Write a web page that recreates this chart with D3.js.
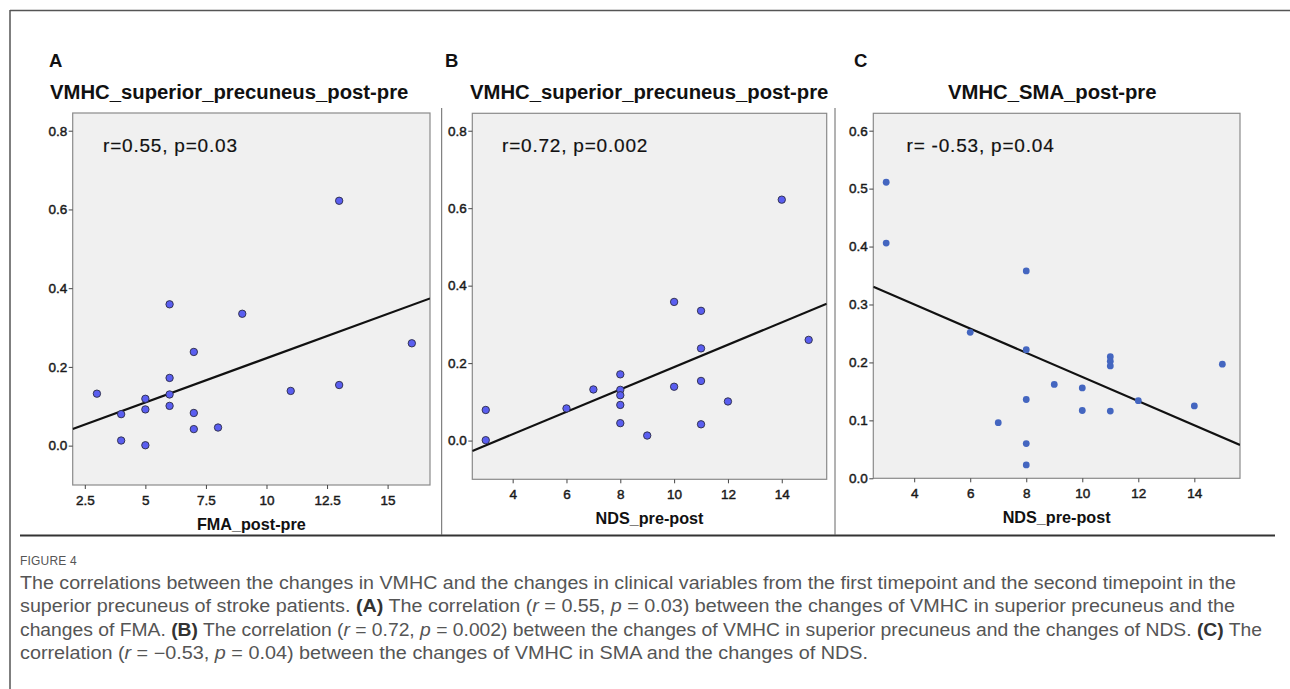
<!DOCTYPE html>
<html>
<head>
<meta charset="utf-8">
<script src="https://cdn.jsdelivr.net/npm/d3@7"></script>
<style>
  html, body { margin: 0; padding: 0; background: #fff; }
  svg { display: block; font-family: "Liberation Sans", Arial, sans-serif; }
</style>
</head>
<body>
<svg id="chart" width="1290" height="689"></svg>
<script>
// ---------- DATA ----------
const panelLetters = ["A", "B", "C"];
const panelTitles = ["VMHC_superior_precuneus_post-pre", "VMHC_superior_precuneus_post-pre", "VMHC_SMA_post-pre"];
const xLabels = ["FMA_post-pre", "NDS_pre-post", "NDS_pre-post"];
const statLabels = ["r=0.55, p=0.03", "r=0.72, p=0.002", "r= -0.53, p=0.04"];

const fmaChangeA = [3, 4, 4, 5, 5, 5, 6, 6, 6, 6, 7, 7, 7, 8, 9, 11, 13, 13, 16];
const vmhcPrecuneusA = [0.132, 0.080, 0.013, 0.119, 0.092, 0.001, 0.359, 0.172, 0.130, 0.101, 0.238, 0.083, 0.042, 0.046, 0.335, 0.139, 0.154, 0.622, 0.260];

const ndsChangeB = [3, 3, 6, 7, 8, 8, 8, 8, 8, 9, 10, 10, 11, 11, 11, 11, 12, 14, 15];
const vmhcPrecuneusB = [0.079, 0.001, 0.083, 0.132, 0.171, 0.131, 0.117, 0.092, 0.045, 0.013, 0.358, 0.139, 0.335, 0.238, 0.154, 0.042, 0.101, 0.622, 0.260];

const ndsChangeC = [3, 3, 6, 7, 8, 8, 8, 8, 8, 9, 10, 10, 11, 11, 11, 11, 12, 14, 15];
const vmhcSMA = [0.511, 0.406, 0.252, 0.096, 0.358, 0.222, 0.136, 0.060, 0.023, 0.162, 0.156, 0.117, 0.210, 0.202, 0.194, 0.116, 0.134, 0.125, 0.197];

const xTicksA = [2.5, 5, 7.5, 10, 12.5, 15];
const xTicksBC = [4, 6, 8, 10, 12, 14];
const yTicksAB = [0.0, 0.2, 0.4, 0.6, 0.8];
const yTicksC = [0.0, 0.1, 0.2, 0.3, 0.4, 0.5, 0.6];

const captionHead = "FIGURE 4";
const captionLines = [
  [["The correlations between the changes in VMHC and the changes in clinical variables from the first timepoint and the second timepoint in the", ""]],
  [["superior precuneus of stroke patients. ", ""], ["(A)", "b"], [" The correlation (", ""], ["r", "i"], [" = 0.55, ", ""], ["p", "i"], [" = 0.03) between the changes of VMHC in superior precuneus and the", ""]],
  [["changes of FMA. ", ""], ["(B)", "b"], [" The correlation (", ""], ["r", "i"], [" = 0.72, ", ""], ["p", "i"], [" = 0.002) between the changes of VMHC in superior precuneus and the changes of NDS. ", ""], ["(C)", "b"], [" The", ""]],
  [["correlation (", ""], ["r", "i"], [" = \u22120.53, ", ""], ["p", "i"], [" = 0.04) between the changes of VMHC in SMA and the changes of NDS.", ""]]
];

// ---------- LAYOUT ----------
const panels = [
  { x: fmaChangeA, y: vmhcPrecuneusA, xDom: [2, 16.75], yDom: [-0.1, 0.845], xTicks: xTicksA, yTicks: yTicksAB,
    box: { l: 72.7, r: 430, t: 113, b: 485 }, letterX: 49, titleX: 50, statX: 103, dot: "outlined" },
  { x: ndsChangeB, y: vmhcPrecuneusB, xDom: [2.5, 15.67], yDom: [-0.1, 0.845], xTicks: xTicksBC, yTicks: yTicksAB,
    box: { l: 472.3, r: 826.7, t: 113.3, b: 479.3 }, letterX: 445, titleX: 470, statX: 502, dot: "outlined" },
  { x: ndsChangeC, y: vmhcSMA, xDom: [2.54, 15.63], yDom: [0, 0.63], xTicks: xTicksBC, yTicks: yTicksC,
    box: { l: 873.3, r: 1240, t: 113.3, b: 478.3 }, letterX: 854, titleX: 948, statX: 906.5, dot: "plain" }
];

const svg = d3.select("#chart");

// outer frame
svg.append("line").attr("x1", 10).attr("x2", 1290).attr("y1", 10.5).attr("y2", 10.5).attr("stroke", "#555").attr("stroke-width", 1.5);
svg.append("line").attr("x1", 10).attr("x2", 10).attr("y1", 10).attr("y2", 689).attr("stroke", "#555").attr("stroke-width", 1.5);

// figure separators
svg.append("line").attr("x1", 20).attr("x2", 1275).attr("y1", 535.5).attr("y2", 535.5).attr("stroke", "#333").attr("stroke-width", 2);
[441.7, 835].forEach(xv => {
  svg.append("line").attr("x1", xv).attr("x2", xv).attr("y1", 108).attr("y2", 535).attr("stroke", "#666").attr("stroke-width", 1);
});

function regression(xs, ys) {
  const mx = d3.mean(xs), my = d3.mean(ys);
  let sxy = 0, sxx = 0;
  xs.forEach((xv, i) => { sxy += (xv - mx) * (ys[i] - my); sxx += (xv - mx) * (xv - mx); });
  const slope = sxy / sxx;
  return { slope, intercept: my - slope * mx };
}

panels.forEach((p, i) => {
  const g = svg.append("g");
  const bx = p.box;
  const xs = d3.scaleLinear().domain(p.xDom).range([bx.l, bx.r]);
  const ys = d3.scaleLinear().domain(p.yDom).range([bx.b, bx.t]);

  // letter & title
  g.append("text").attr("x", p.letterX).attr("y", 66.7).attr("font-size", 18.5).attr("font-weight", "bold").attr("fill", "#111").text(panelLetters[i]);
  g.append("text").attr("x", p.titleX).attr("y", 98.8).attr("font-size", 20.3).attr("font-weight", "bold").attr("fill", "#111").text(panelTitles[i]);

  // plot background
  g.append("rect").attr("x", bx.l).attr("y", bx.t).attr("width", bx.r - bx.l).attr("height", bx.b - bx.t)
    .attr("fill", "#f0f0f0").attr("stroke", "#8a8a8a").attr("stroke-width", 1.2);

  // axes
  const yAxis = d3.axisLeft(ys).tickValues(p.yTicks).tickFormat(d3.format(".1f")).tickSize(4).tickPadding(1.5);
  const ya = g.append("g").attr("transform", `translate(${bx.l},0)`).call(yAxis);
  const xAxis = d3.axisBottom(xs).tickValues(p.xTicks).tickFormat(d3.format("")).tickSize(4).tickPadding(6);
  const xa = g.append("g").attr("transform", `translate(0,${bx.b})`).call(xAxis);
  [ya, xa].forEach(a => {
    a.select(".domain").remove();
    a.selectAll(".tick line").attr("stroke", "#444");
    a.selectAll(".tick text").attr("font-size", 13.5).attr("fill", "#1a1a1a").attr("font-family", "Liberation Sans, Arial, sans-serif")
      .attr("stroke", "#1a1a1a").attr("stroke-width", 0.45);
  });

  // x axis label
  g.append("text").attr("x", (bx.l + bx.r) / 2).attr("y", bx.b + 44.5).attr("text-anchor", "middle")
    .attr("font-size", 16.2).attr("font-weight", "bold").attr("fill", "#111").text(xLabels[i]);

  // clip
  const clipId = "clip" + i;
  svg.append("clipPath").attr("id", clipId).append("rect")
    .attr("x", bx.l).attr("y", bx.t).attr("width", bx.r - bx.l).attr("height", bx.b - bx.t);

  // regression line
  const reg = regression(p.x, p.y);
  g.append("line").attr("clip-path", `url(#${clipId})`)
    .attr("x1", xs(p.xDom[0])).attr("y1", ys(reg.intercept + reg.slope * p.xDom[0]))
    .attr("x2", xs(p.xDom[1])).attr("y2", ys(reg.intercept + reg.slope * p.xDom[1]))
    .attr("stroke", "#111").attr("stroke-width", 2.2);

  // points
  const data = p.x.map((xv, k) => ({ x: xv, y: p.y[k] }));
  g.selectAll("circle.pt").data(data).enter().append("circle").attr("class", "pt")
    .attr("cx", d => xs(d.x)).attr("cy", d => ys(d.y))
    .attr("r", p.dot === "outlined" ? 3.7 : 3.4)
    .attr("fill", p.dot === "outlined" ? "#5a5ef0" : "#4466c0")
    .attr("stroke", p.dot === "outlined" ? "#2b2b44" : "none")
    .attr("stroke-width", 0.9);

  // stat annotation
  g.append("text").attr("x", p.statX).attr("y", 152).attr("font-size", 19).attr("letter-spacing", 0.8)
    .attr("fill", "#111").attr("stroke", "#111").attr("stroke-width", 0.2).text(statLabels[i]);
});

// caption
svg.append("text").attr("x", 20).attr("y", 565).attr("font-size", 12).attr("fill", "#555")
  .attr("letter-spacing", 0.2).text(captionHead);

const lineEnds = [1236, 1235, 1262, 868];
const lineY = [588.5, 612, 635.5, 659];
captionLines.forEach((segs, li) => {
  const t = svg.append("text").attr("x", 20).attr("y", lineY[li]).attr("font-size", 17.5)
    .attr("fill", "#555")
    .attr("textLength", lineEnds[li] - 20).attr("lengthAdjust", "spacingAndGlyphs");
  segs.forEach(([s, st]) => {
    const ts = t.append("tspan").text(s);
    if (st === "b") ts.attr("font-weight", "bold").attr("fill", "#333");
    if (st === "i") ts.attr("font-style", "italic");
  });
});
</script>
</body>
</html>
